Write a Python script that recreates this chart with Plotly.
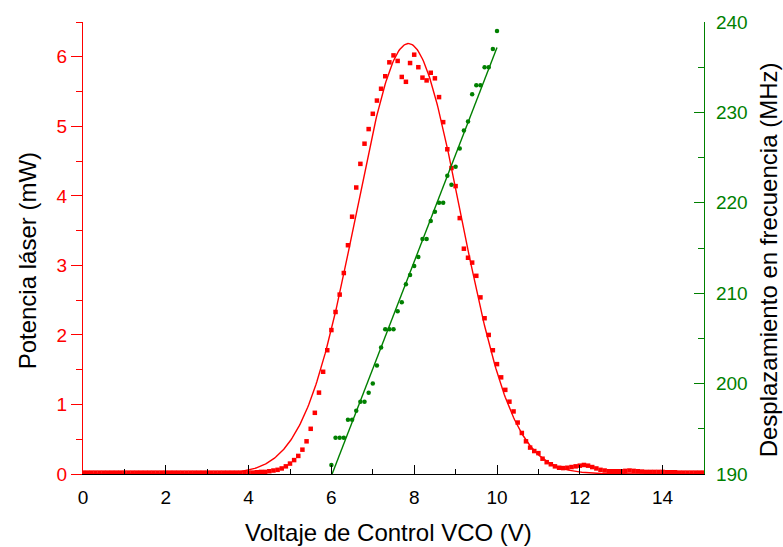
import numpy as np
import plotly.graph_objects as go

# Control voltage sweep (V), sampled every 0.1 V
voltage = np.round(np.arange(0, 151) * 0.1, 1)

# Measured laser power (mW) at each voltage step
power_mw = [
    0.02, 0.02, 0.02, 0.02, 0.02, 0.02, 0.02, 0.02, 0.02, 0.02,   # 0.0-0.9
    0.02, 0.02, 0.02, 0.02, 0.02, 0.02, 0.02, 0.02, 0.02, 0.02,   # 1.0-1.9
    0.02, 0.02, 0.02, 0.02, 0.02, 0.02, 0.02, 0.02, 0.02, 0.02,   # 2.0-2.9
    0.02, 0.02, 0.02, 0.02, 0.02, 0.02, 0.02, 0.02, 0.02, 0.02,   # 3.0-3.9
    0.02, 0.02, 0.025, 0.03, 0.03, 0.04, 0.05, 0.06, 0.08, 0.11,  # 4.0-4.9
    0.15, 0.20, 0.26, 0.35, 0.47, 0.65, 0.88, 1.17, 1.47, 1.78,   # 5.0-5.9
    2.07, 2.33, 2.58, 2.89, 3.29, 3.70, 4.12, 4.46, 4.75, 4.96,   # 6.0-6.9
    5.18, 5.37, 5.54, 5.72, 5.92, 6.02, 5.94, 5.71, 5.64, 5.91,   # 7.0-7.9
    6.03, 5.85, 5.70, 5.66, 5.77, 5.69, 5.42, 5.06, 4.67, 4.40,   # 8.0-8.9
    4.14, 3.68, 3.24, 3.11, 3.04, 2.85, 2.54, 2.24, 2.00, 1.78,   # 9.0-9.9
    1.58, 1.39, 1.21, 1.04, 0.90, 0.74, 0.59, 0.47, 0.38, 0.33,   # 10.0-10.9
    0.30, 0.22, 0.17, 0.14, 0.11, 0.09, 0.085, 0.09, 0.10, 0.11,  # 11.0-11.9
    0.12, 0.13, 0.12, 0.10, 0.08, 0.06, 0.05, 0.04, 0.04, 0.04,   # 12.0-12.9
    0.04, 0.045, 0.05, 0.045, 0.04, 0.035, 0.03, 0.03, 0.03, 0.03,  # 13.0-13.9
    0.03, 0.025, 0.025, 0.025, 0.02, 0.02, 0.02, 0.02, 0.02, 0.02,  # 14.0-14.9
    0.02,                                                         # 15.0
]

# Frequency shift (MHz) measured between 6 V and 10 V
shift_voltage = np.round(np.arange(60, 101) * 0.1, 1)
shift_mhz = [
    191.0, 194.0, 194.0, 194.0, 196.0, 196.0, 197.0, 198.0, 198.0, 199.0,
    200.0, 202.0, 204.0, 206.0, 206.0, 206.0, 208.0, 209.0, 211.0, 212.0,
    213.0, 214.0, 216.0, 216.0, 218.0, 219.0, 220.0, 220.0, 223.0, 222.0,
    224.0, 226.0, 228.0, 229.0, 232.0, 233.0, 233.0, 235.0, 235.0, 237.0,
    239.0,
]

# Gaussian model of the power curve
GAUSS_AMP = 6.19
GAUSS_CENTER = 7.86
GAUSS_SIGMA = 1.26

RED = "#ff0000"
GREEN = "#008000"
FONT = "Liberation Sans, Arial, sans-serif"

v_fine = np.linspace(0, 15, 601)
power_fit = GAUSS_AMP * np.exp(-((v_fine - GAUSS_CENTER) ** 2) / (2 * GAUSS_SIGMA ** 2))

slope, intercept = np.polyfit(shift_voltage, shift_mhz, 1)
v_lin = np.linspace(shift_voltage[0], shift_voltage[-1], 50)
shift_fit = slope * v_lin + intercept

fig = go.Figure()

fig.add_trace(go.Scatter(
    x=v_fine, y=power_fit, mode="lines",
    line=dict(color=RED, width=1.4), xaxis="x", yaxis="y", showlegend=False,
))
fig.add_trace(go.Scatter(
    x=voltage, y=power_mw, mode="markers",
    marker=dict(symbol="square", size=4.5, color=RED, line=dict(width=0)),
    xaxis="x", yaxis="y", showlegend=False,
))
fig.add_trace(go.Scatter(
    x=v_lin, y=shift_fit, mode="lines",
    line=dict(color=GREEN, width=1.4), xaxis="x", yaxis="y2", showlegend=False,
))
fig.add_trace(go.Scatter(
    x=shift_voltage, y=shift_mhz, mode="markers",
    marker=dict(symbol="circle", size=4.5, color=GREEN, line=dict(width=0)),
    xaxis="x", yaxis="y2", showlegend=False,
))

fig.update_layout(
    width=783, height=547,
    margin=dict(l=83, r=79, t=17, b=73),
    paper_bgcolor="white", plot_bgcolor="white",
    font=dict(family=FONT, size=19, color="black"),
    xaxis=dict(
        range=[0, 15], dtick=2, tick0=0,
        showgrid=False, zeroline=False,
        showline=True, linecolor="black", linewidth=1.3,
        ticks="inside", ticklen=9, tickwidth=1.3, tickcolor="black",
        minor=dict(dtick=1, ticks="inside", ticklen=5, tickwidth=1.2, tickcolor="black"),
        tickfont=dict(size=19, color="black"),
        ticklabelstandoff=6,
        anchor="y",
    ),
    xaxis2=dict(
        range=[0, 15], dtick=1, tick0=0, overlaying="x", side="top", anchor="y",
        showgrid=False, zeroline=False, showticklabels=False,
        showline=True, linecolor="black", linewidth=1.3,
        ticks="inside", ticklen=7, tickwidth=1.2, tickcolor="black",
    ),
    yaxis=dict(
        range=[0, 6.5], dtick=1, tick0=0,
        showgrid=False, zeroline=False,
        showline=True, linecolor=RED, linewidth=1.3,
        ticks="outside", ticklen=11, tickwidth=1.3, tickcolor=RED,
        minor=dict(dtick=0.5, ticks="outside", ticklen=6, tickwidth=1.2, tickcolor=RED),
        tickfont=dict(size=19, color=RED),
        ticklabelstandoff=0,
    ),
    yaxis2=dict(
        range=[190, 240], dtick=10, tick0=190,
        overlaying="y", side="right", anchor="x",
        showgrid=False, zeroline=False,
        showline=True, linecolor=GREEN, linewidth=1.3,
        ticks="inside", ticklen=10, tickwidth=1.3, tickcolor=GREEN,
        minor=dict(dtick=5, ticks="inside", ticklen=6, tickwidth=1.2, tickcolor=GREEN),
        tickfont=dict(size=19, color=GREEN),
        ticklabelstandoff=7,
    ),
)

# Axis titles
plot_w = 783 - 83 - 79
plot_h = 547 - 17 - 73
fig.add_annotation(
    text="Potencia láser (mW)", textangle=-90,
    x=(27 - 83) / plot_w, y=(474 - 259) / plot_h, xref="paper", yref="paper",
    showarrow=False, font=dict(size=24, color="black", family=FONT),
    xanchor="center", yanchor="middle",
)
fig.add_annotation(
    text="Desplazamiento en frecuencia (MHz)", textangle=-90,
    x=(768 - 83) / plot_w, y=(474 - 258) / plot_h, xref="paper", yref="paper",
    showarrow=False, font=dict(size=24, color="black", family=FONT),
    xanchor="center", yanchor="middle",
)
fig.add_annotation(
    text="Voltaje de Control VCO (V)",
    x=(388 - 83) / plot_w, y=(474 - 533) / plot_h, xref="paper", yref="paper",
    showarrow=False, font=dict(size=24, color="black", family=FONT),
    xanchor="center", yanchor="middle",
)

fig.write_html("out.html")
